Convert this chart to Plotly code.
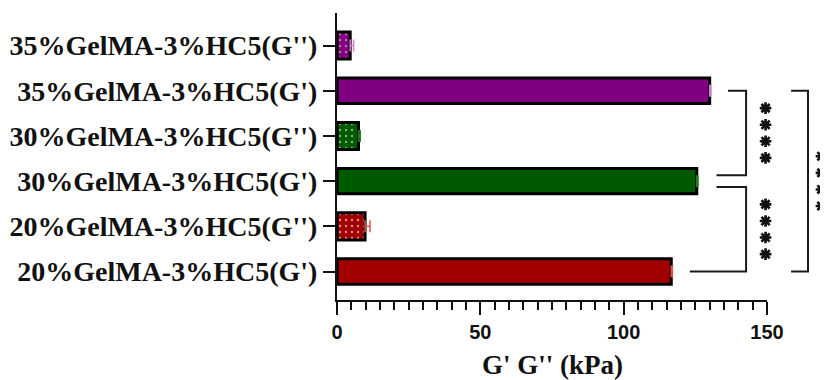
import math
import plotly.graph_objects as go

# ---------------- data ----------------
categories = [
    "20%GelMA-3%HC5(G')",
    "20%GelMA-3%HC5(G'')",
    "30%GelMA-3%HC5(G')",
    "30%GelMA-3%HC5(G'')",
    "35%GelMA-3%HC5(G')",
    "35%GelMA-3%HC5(G'')",
]
modulus_kpa = [116.6, 9.8, 125.5, 7.5, 130.0, 4.6]
error_kpa = [0.4, 1.7, 0.4, 0.6, 0.4, 1.2]
is_loss = [False, True, False, True, False, True]
x_tick_vals = [0, 50, 100, 150]

# significance brackets: (upper category index, lower category index, label)
sig_pairs = [(4, 2, "****"), (2, 0, "****"), (4, 0, "****")]

# ---------------- styles ----------------
bar_colors = ["#a00000", "#a00000", "#005a00", "#005a00", "#800080", "#800080"]
dot_colors = ["#e89090", "#e89090", "#70b870", "#70b870", "#c070c0", "#c070c0"]
err_colors = ["#e05050", "#e05050", "#208020", "#208020", "#d080d0", "#d080d0"]

X_RANGE = [0, 150]
Y_RANGE = [-0.63, 5.72]
PLOT_W, PLOT_H = 430, 287
cat_idx = list(range(len(categories)))

fig = go.Figure()
for i in cat_idx:
    fig.add_trace(go.Bar(
        y=[i], x=[modulus_kpa[i]], orientation="h",
        width=0.6 if is_loss[i] else 0.56,
        marker=dict(
            color=bar_colors[i],
            line=dict(color="black", width=3),
            pattern=dict(shape="." if is_loss[i] else "", fgcolor=dot_colors[i],
                         bgcolor=bar_colors[i], size=6, solidity=0.12,
                         fillmode="replace"),
        ),
        error_x=dict(type="data", symmetric=False, array=[error_kpa[i]],
                     arrayminus=[0], color=err_colors[i], thickness=1.5, width=6),
        showlegend=False, hoverinfo="skip",
    ))


def xp(x):
    return (x - X_RANGE[0]) / (X_RANGE[1] - X_RANGE[0])


def yp(y):
    return (y - Y_RANGE[0]) / (Y_RANGE[1] - Y_RANGE[0])


# bracket geometry (data units, decorative)
gap = 0.13
bracket_defs = [
    # y_top, y_bot, x_vert, x_top_left, x_bot_left, star_x
    (4, 2 + gap, 142.7, 136.4, 132.4, 149.5),
    (2 - gap, 0, 142.7, 132.4, 123.1, 149.5),
    (4, 0, 164.3, 158.4, 158.4, 169.0),
]
line_style = dict(color="#1a1a1a", width=2)
star_style = dict(color="#111", width=2.6)
star_step = 0.367
star_r = 5.8  # px
for (yt, yb, xv, xtl, xbl, sx), (_, _, lab) in zip(bracket_defs, sig_pairs):
    path = (f"M {xp(xtl)},{yp(yt)} L {xp(xv)},{yp(yt)} "
            f"L {xp(xv)},{yp(yb)} L {xp(xbl)},{yp(yb)}")
    fig.add_shape(type="path", path=path, xref="paper", yref="paper",
                  line=line_style)
    ymid = (yt + yb) / 2
    n = len(lab)
    for k in range(n):
        cx = xp(sx)
        cy = yp(ymid + (k - (n - 1) / 2) * star_step)
        segs = []
        for ang in (0, 45, 90, 135):
            dx = star_r * math.cos(math.radians(ang)) / PLOT_W
            dy = star_r * math.sin(math.radians(ang)) / PLOT_H
            segs.append(f"M {cx - dx},{cy - dy} L {cx + dx},{cy + dy}")
        fig.add_shape(type="path", path=" ".join(segs), xref="paper",
                      yref="paper", line=star_style)

fig.add_annotation(x=0.5, y=-0.226, xref="paper", yref="paper",
                   text="G' G'' (kPa)", showarrow=False, xanchor="center",
                   yanchor="middle",
                   font=dict(family="Liberation Serif", size=27, color="#111",
                             weight="bold"))

# page body has an 8px margin, so the figure is drawn 8px in from the corner
fig.update_layout(
    width=820, height=372,
    margin=dict(l=329, r=61, t=5, b=80),
    paper_bgcolor="white", plot_bgcolor="white",
    barmode="overlay",
    xaxis=dict(
        range=X_RANGE, tickvals=x_tick_vals, ticks="outside", ticklen=13,
        tickwidth=2, tickcolor="#111", showline=True, linecolor="#111",
        linewidth=2, showgrid=False, zeroline=False, automargin=False,
        tickfont=dict(family="Liberation Sans", size=20, color="#111",
                      weight="bold"),
        minor=dict(dtick=5, ticks="outside", ticklen=8, tickwidth=1.5,
                   tickcolor="#111", showgrid=False),
    ),
    yaxis=dict(
        range=Y_RANGE, tickvals=cat_idx, ticktext=categories,
        ticks="outside", ticklen=12, tickwidth=2,
        tickcolor="#111", showline=True, linecolor="#111", linewidth=2,
        showgrid=False, zeroline=False, automargin=False,
        tickfont=dict(family="Liberation Serif", size=28, color="#111",
                      weight="bold"),
    ),
)

fig.write_html("out.html")
